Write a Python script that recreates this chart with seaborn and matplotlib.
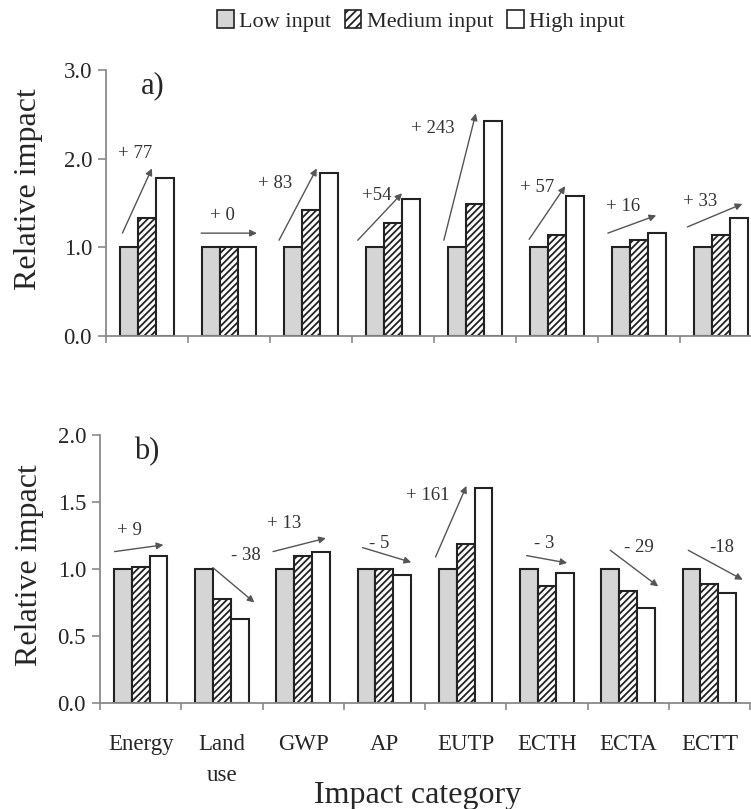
import matplotlib
matplotlib.use("Agg")
import matplotlib.pyplot as plt
import seaborn as sns
import pandas as pd
from matplotlib.patches import Patch

# ---------------- data ----------------
categories = ["Energy", "Land\nuse", "GWP", "AP", "EUTP", "ECTH", "ECTA", "ECTT"]
levels = ["Low input", "Medium input", "High input"]

a_low = [1.00, 1.00, 1.00, 1.00, 1.00, 1.00, 1.00, 1.00]
a_medium = [1.33, 1.00, 1.42, 1.28, 1.49, 1.14, 1.08, 1.14]
a_high = [1.78, 1.00, 1.84, 1.54, 2.43, 1.58, 1.165, 1.33]

b_low = [1.00, 1.00, 1.00, 1.00, 1.00, 1.00, 1.00, 1.00]
b_medium = [1.015, 0.776, 1.097, 1.00, 1.187, 0.875, 0.838, 0.888]
b_high = [1.10, 0.625, 1.13, 0.955, 1.605, 0.97, 0.71, 0.82]

a_change_labels = ["+ 77", "+ 0", "+ 83", "+54", "+ 243", "+ 57", "+ 16", "+ 33"]
b_change_labels = ["+ 9", "- 38", "+ 13", "- 5", "+ 161", "- 3", "- 29", "-18"]

# arrow geometry (data coordinates): start, end, label position
a_arrows = [((-0.30, 1.16), (0.06, 1.89), (-0.15, 2.06)),
            ((0.66, 1.16), (1.34, 1.16), (0.92, 1.36)),
            ((1.61, 1.08), (2.07, 1.89), (1.56, 1.72)),
            ((2.57, 1.08), (3.11, 1.61), (2.80, 1.59)),
            ((3.62, 1.08), (4.01, 2.51), (3.48, 2.34)),
            ((4.66, 1.09), (5.10, 1.69), (4.76, 1.67)),
            ((5.62, 1.16), (6.21, 1.36), (5.80, 1.46)),
            ((6.59, 1.23), (7.26, 1.49), (6.74, 1.52))]
b_arrows = [((-0.32, 1.13), (0.28, 1.18), (-0.14, 1.29)),
            ((0.89, 1.01), (1.40, 0.75), (1.30, 1.10)),
            ((1.63, 1.13), (2.28, 1.23), (1.77, 1.34)),
            ((2.73, 1.16), (3.33, 1.05), (2.94, 1.19)),
            ((3.63, 1.09), (4.01, 1.62), (3.53, 1.55)),
            ((4.75, 1.10), (5.25, 1.045), (4.97, 1.19)),
            ((5.78, 1.14), (6.37, 0.87), (6.13, 1.16)),
            ((6.74, 1.14), (7.41, 0.92), (7.15, 1.16))]


def long_df(low, med, high):
    rows = []
    for lvl, vals in zip(levels, [low, med, high]):
        for c, v in zip(categories, vals):
            rows.append({"category": c, "input": lvl, "value": v})
    return pd.DataFrame(rows)


df_a = long_df(a_low, a_medium, a_high)
df_b = long_df(b_low, b_medium, b_high)

# ---------------- style ----------------
sns.set_style("white")
plt.rcParams["font.family"] = ["Liberation Serif", "DejaVu Serif"]
plt.rcParams["hatch.linewidth"] = 1.3

palette = {"Low input": "#d5d5d5", "Medium input": "white", "High input": "white"}
hatches = {"Low input": "", "Medium input": "/////", "High input": ""}
edge = "#222222"
spine_c = "#8a8a8a"

W, H = 751, 809
fig = plt.figure(figsize=(W / 100, H / 100), dpi=100)

ax_a = fig.add_axes([106 / W, (H - 336) / H, 656 / W, 266 / H])
ax_b = fig.add_axes([100 / W, (H - 703) / H, 650 / W, 268 / H])


def draw(ax, df, ymax, yticks, arrows, labels, panel):
    sns.barplot(data=df, x="category", y="value", hue="input", order=categories,
                hue_order=levels, palette=palette, saturation=1, width=0.66,
                edgecolor=edge, linewidth=1.5, errorbar=None, legend=False, ax=ax)
    for cont, lvl in zip(ax.containers, levels):
        for p in cont:
            p.set_hatch(hatches[lvl])
    ax.set_xlim(-0.5, len(categories) - 0.5)
    ax.set_ylim(0, ymax)
    ax.set_yticks(yticks)
    ax.set_yticklabels([f"{t:.1f}" for t in yticks], fontsize=16.5)
    for s in ["top", "right"]:
        ax.spines[s].set_visible(False)
    for s in ["left", "bottom"]:
        ax.spines[s].set_color(spine_c)
        ax.spines[s].set_linewidth(1.3)
    ax.tick_params(axis="y", which="major", left=True, length=6, width=1.2,
                   color=spine_c, direction="out", pad=4)
    ax.set_xticks([i - 0.5 for i in range(len(categories) + 1)], minor=True)
    ax.tick_params(axis="x", which="minor", bottom=True, length=5, width=1.2,
                   color=spine_c, direction="out")
    ax.tick_params(axis="x", which="major", bottom=False, length=0)
    ax.set_ylabel("Relative impact", fontsize=23)
    ax.set_xlabel("")
    for (s, e, lp), txt in zip(arrows, labels):
        ax.annotate("", xy=e, xytext=s,
                    arrowprops=dict(arrowstyle="-|>", color="#555555", lw=1.0,
                                    mutation_scale=10, shrinkA=0, shrinkB=0))
        ax.text(lp[0], lp[1], txt, fontsize=13.5, color="#333333",
                ha="center", va="center")
    ax.text(0.053, 0.94, panel, transform=ax.transAxes, fontsize=22,
            ha="left", va="center")


draw(ax_a, df_a, 3.0, [0.0, 1.0, 2.0, 3.0], a_arrows, a_change_labels, "a)")
draw(ax_b, df_b, 2.0, [0.0, 0.5, 1.0, 1.5, 2.0], b_arrows, b_change_labels, "b)")

ax_a.set_xticklabels([])
ax_b.set_xticklabels(categories, fontsize=16.5, linespacing=1.65, va="top")
ax_b.tick_params(axis="x", which="major", pad=22)

ax_a.yaxis.set_label_coords((29 - 106) / 656, (336 - 189) / 266)
ax_a.yaxis.label.set_va("center")
ax_b.yaxis.set_label_coords((29.5 - 100) / 650, (703 - 565) / 268)
ax_b.yaxis.label.set_va("center")

ax_b.set_xlabel("Impact category", fontsize=23)
ax_b.xaxis.set_label_coords((418 - 100) / 650, -(795 - 703) / 268)
ax_b.xaxis.label.set_va("center")

handles = [Patch(facecolor=palette[l], edgecolor=edge, hatch=hatches[l] and "////",
                 linewidth=1.2, label=l) for l in levels]
fig.legend(handles=handles, loc="center", bbox_to_anchor=(421 / W, 1 - 21 / H),
           ncol=3, frameon=False, fontsize=16, handlelength=0.75, handleheight=0.85,
           handletextpad=0.25, columnspacing=0.6, borderaxespad=0)

fig.savefig("out.png", dpi=100, facecolor="white")
